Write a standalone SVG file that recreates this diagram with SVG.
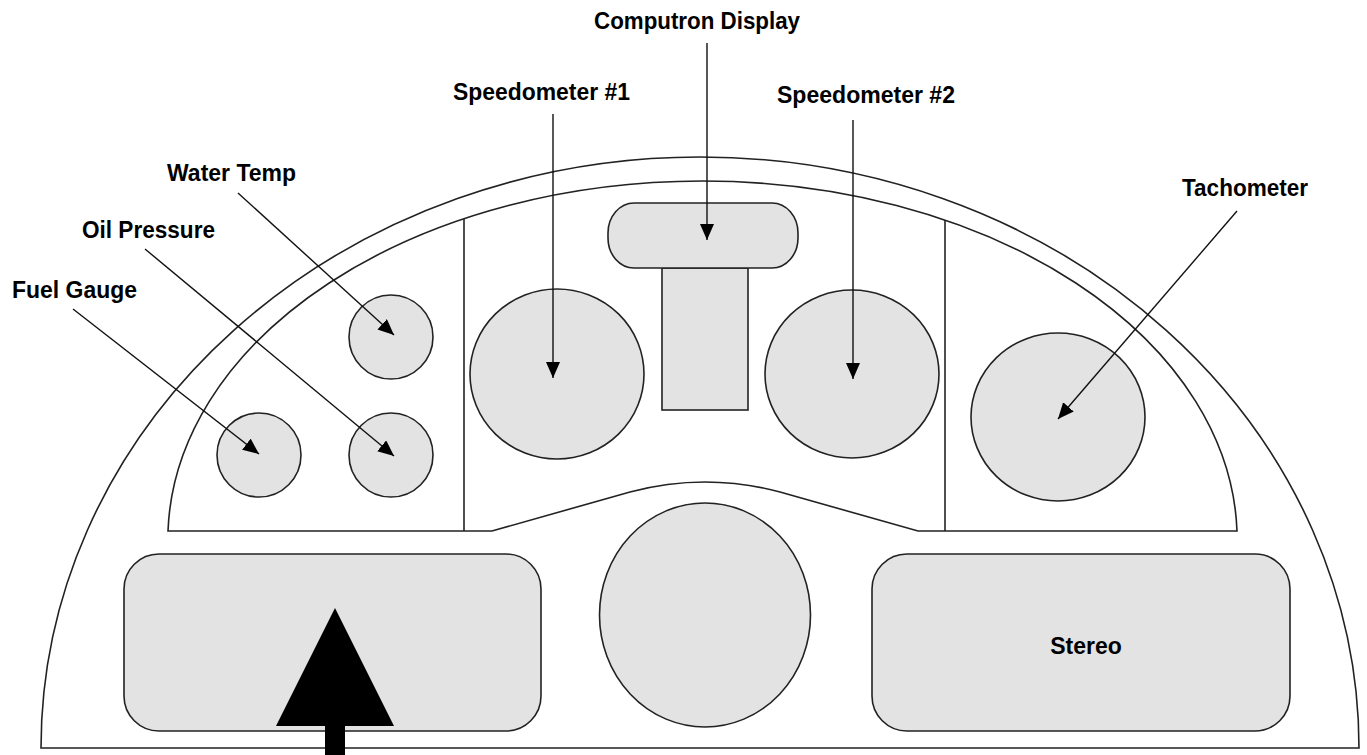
<svg xmlns="http://www.w3.org/2000/svg" width="1367" height="755" viewBox="0 0 1367 755">
<style>
.ol{fill:#fff;stroke:#222;stroke-width:1.6}
.g{fill:#e3e3e3;stroke:#222;stroke-width:1.6}
.ln{stroke:#222;stroke-width:1.6;fill:none}
.c{stroke:#111;stroke-width:1.4;fill:none;marker-end:url(#ah)}
.t{font-family:"Liberation Sans",Arial,sans-serif;font-weight:bold;font-size:23px;fill:#000}
</style>
<defs>
<marker id="ah" markerUnits="userSpaceOnUse" markerWidth="17" markerHeight="15" refX="16" refY="7" orient="auto" viewBox="0 0 17 15">
<path d="M0,0 L16,7 L0,14 Z" fill="#000"/>
</marker>
</defs>
<rect width="1367" height="755" fill="#fff"/>
<g id="dash-outline">
<path class="ol" d="M41,748 A659,591 0 0 1 700,157 A659,591 0 0 1 1359,748 Z" stroke-width="2"/>
</g>
<g id="gauge-panel">
<path class="ol" d="M168,531 A534.7,359 0 0 1 702.5,181 A534.7,359 0 0 1 1237,531 L918,531 L780,492 Q705,472 630,492 L492,531 Z"/>
<line class="ln" x1="464" y1="219" x2="464" y2="531"/>
<line class="ln" x1="945" y1="220" x2="945" y2="531"/>
</g>
<g id="fuel-gauge"><circle class="g" cx="259" cy="455" r="42"/></g>
<g id="oil-pressure"><circle class="g" cx="391" cy="455" r="42"/></g>
<g id="water-temp"><circle class="g" cx="391" cy="337" r="42"/></g>
<g id="speedometer-1"><ellipse class="g" cx="557" cy="374" rx="87" ry="85"/></g>
<g id="computron-display">
<rect class="g" x="662" y="268" width="86" height="142"/>
<rect class="g" x="608" y="203" width="190" height="65" rx="26" ry="30"/>
</g>
<g id="speedometer-2"><ellipse class="g" cx="852" cy="374" rx="87" ry="84"/></g>
<g id="tachometer"><ellipse class="g" cx="1058" cy="417" rx="87" ry="84"/></g>
<g id="left-unit"><rect class="g" x="124" y="554" width="417" height="177" rx="35" ry="35"/></g>
<g id="center-unit"><ellipse class="g" cx="705" cy="615" rx="105.5" ry="112"/></g>
<g id="stereo">
<rect class="g" x="872" y="554" width="418" height="177" rx="35" ry="35"/>
<text class="t" x="1086" y="654" text-anchor="middle">Stereo</text>
</g>
<g id="big-arrow" fill="#000">
<polygon points="335,608 394,726 276,726"/>
<rect x="325" y="724" width="20" height="31"/>
</g>
<g id="labels">
<text class="t" x="594" y="29" textLength="206" lengthAdjust="spacingAndGlyphs">Computron Display</text>
<text class="t" x="453" y="100" textLength="177" lengthAdjust="spacingAndGlyphs">Speedometer #1</text>
<text class="t" x="777" y="103" textLength="178" lengthAdjust="spacingAndGlyphs">Speedometer #2</text>
<text class="t" x="167" y="181" textLength="129" lengthAdjust="spacingAndGlyphs">Water Temp</text>
<text class="t" x="82" y="238" textLength="133" lengthAdjust="spacingAndGlyphs">Oil Pressure</text>
<text class="t" x="12" y="298" textLength="125" lengthAdjust="spacingAndGlyphs">Fuel Gauge</text>
<text class="t" x="1182" y="196" textLength="126" lengthAdjust="spacingAndGlyphs">Tachometer</text>
</g>
<g id="connectors">
<line class="c" x1="73" y1="309" x2="259" y2="454"/>
<line class="c" x1="145" y1="249" x2="394" y2="456"/>
<line class="c" x1="238" y1="193" x2="394" y2="335"/>
<line class="c" x1="553" y1="114" x2="553" y2="378"/>
<line class="c" x1="707" y1="43" x2="707" y2="240"/>
<line class="c" x1="853" y1="120" x2="853" y2="379"/>
<line class="c" x1="1237" y1="211" x2="1058" y2="419"/>
</g>
</svg>
